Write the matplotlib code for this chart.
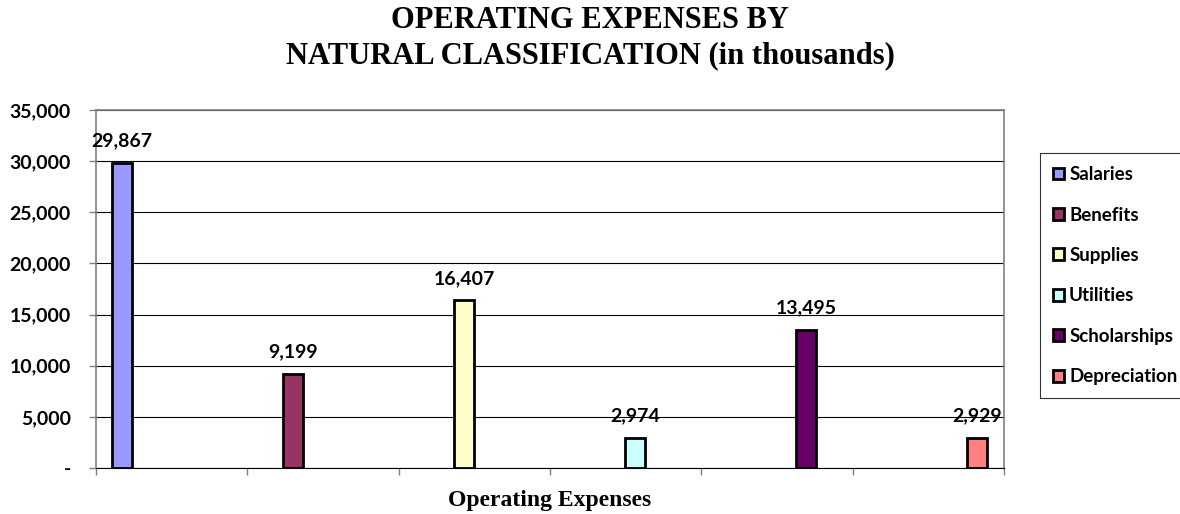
import numpy as np
import matplotlib
matplotlib.use('Agg')
import matplotlib.pyplot as plt
from matplotlib.ticker import FuncFormatter

# ========== 数据 ==========
categories = ["Salaries", "Benefits", "Supplies", "Utilities", "Scholarships", "Depreciation"]
values = [29867, 9199, 16407, 2974, 13495, 2929]
colors = ["#9999FF", "#993366", "#FFFFCC", "#CCFFFF", "#660066", "#FF8080"]
yticks = [0, 5000, 10000, 15000, 20000, 25000, 30000, 35000]

sans = ['Lato', 'DejaVu Sans']
serif = ['Liberation Serif', 'DejaVu Serif']

fig = plt.figure(figsize=(11.8, 5.14), dpi=100)
ax = fig.add_axes([96/1180, 1 - 468/514, 908/1180, 358/514])

x = np.arange(len(values))
bars = ax.bar(x, values, width=0.12, color=colors, edgecolor='black', linewidth=2,
              label=categories, zorder=3)
for xi, v in zip(x, values):
    ax.text(xi, v + 1300, f"{v:,}", ha='center', va='bottom', fontsize=14,
            fontweight='bold', family=sans)

xlim = (-0.152, 5.158)
ax.set_xlim(*xlim)
ax.set_ylim(0, 35000)
ax.set_yticks(yticks)
ax.yaxis.set_major_formatter(FuncFormatter(lambda v, p: '-' if v == 0 else f"{int(v):,}"))
for lab in ax.get_yticklabels():
    lab.set_fontweight('bold'); lab.set_family(sans); lab.set_fontsize(14)
ax.set_xticks(np.linspace(xlim[0], xlim[1], 7))
ax.set_xticklabels([])
ax.tick_params(axis='both', length=5, color='#808080', width=1)
ax.tick_params(axis='y', pad=13)
ax.grid(axis='y', color='black', linewidth=0.8, zorder=0)
for s in ['left', 'right', 'top']:
    ax.spines[s].set_color('#808080'); ax.spines[s].set_linewidth(1.2)
ax.spines['bottom'].set_color('black')

ax.set_xlabel("Operating Expenses", fontsize=17, fontweight='bold', family=serif, labelpad=7)
fig.text(0.5, 1 - 21/514, "OPERATING EXPENSES BY", ha='center', va='center',
         fontsize=22, fontweight='bold', family=serif)
fig.text(0.5, 1 - 56/514, "NATURAL CLASSIFICATION (in thousands)", ha='center', va='center',
         fontsize=22, fontweight='bold', family=serif)

leg = fig.legend(handles=list(bars), labels=categories, loc='upper left',
                 bbox_to_anchor=(1040/1180, 1 - 153/514), frameon=True, fancybox=False,
                 edgecolor='black', handlelength=0.6, handleheight=0.6, handletextpad=0.25,
                 labelspacing=1.25, borderpad=0.7, borderaxespad=0,
                 prop={'family': sans, 'weight': 'bold', 'size': 13.5})
leg.get_frame().set_linewidth(0.8)

plt.savefig("out.png", dpi=100)
plt.close()
